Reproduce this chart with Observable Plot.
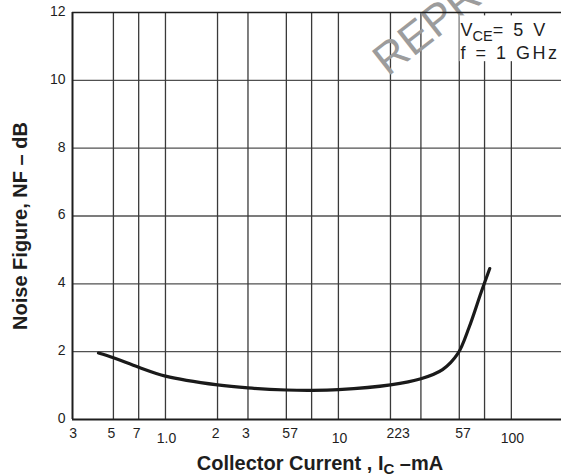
<!DOCTYPE html>
<html><head><meta charset="utf-8">
<script src="https://cdn.jsdelivr.net/npm/d3@7"></script>
<script src="https://cdn.jsdelivr.net/npm/@observablehq/plot@0.6"></script>
<style>body{margin:0;background:#fff} svg{display:block}</style>
</head><body><div id="chart"></div>
<script>
// Curve: noise figure vs collector current
const currentMA = [0.41, 0.5, 0.7, 1.0, 2.0, 3.0, 5.0, 7.0, 10, 20, 30, 40, 49, 57, 67, 75];
const noiseFigureDB = [1.96, 1.82, 1.54, 1.28, 1.02, 0.93, 0.87, 0.86, 0.88, 1.02, 1.2, 1.47, 1.94, 2.72, 3.76, 4.45];

// Axes
const xDomain = [0.29, 195];
const yDomain = [0, 12];
const yTicks = [0, 2, 4, 6, 8, 10, 12];
const xGrid = [0.5, 0.7, 1, 2, 3, 5, 7, 10, 20, 30, 50, 70, 100];
const xSingleAt = [0.3, 0.5, 0.7, 2, 3];
const xSingleText = ["3", "5", "7", "2", "3"];
const xGroupAt = [5, 20, 50];
const xGroupText = ["57", "223", "57"];
const xDecadeAt = [1, 10, 100];
const xDecadeText = ["1.0", "10", "100"];

// Texts
const xTitle = ["Collector Current , I", "C", " \u2013mA"];
const yTitle = "Noise Figure, NF \u2013 dB";
const condition1 = ["V", "CE", "= 5 V"];
const condition2 = "f = 1 GHz";
const watermark = "REPRINT";
const noteAt = {x: 50.5, y1: 10.55, y2: 11.9};
const watermarkAt = {x: 19.3, y: 10.1};

const font = "'Liberation Sans', Arial, Helvetica, sans-serif";
const ink = "#1e1e1e";

const curve = currentMA.map((c, i) => ({c, nf: noiseFigureDB[i]}));

const chart = Plot.plot({
  width: 561, height: 476,
  marginLeft: 72, marginRight: 0, marginTop: 12, marginBottom: 57,
  x: {type: "log", domain: xDomain, axis: null},
  y: {domain: yDomain, axis: null},
  style: {fontFamily: font, background: "white", color: ink},
  marks: [
    Plot.ruleY(yTicks.slice(1, -1), {y: d => d, stroke: "#505050", strokeWidth: 1.3}),
    Plot.ruleX(xGrid, {x: d => d, y1: yDomain[0], y2: yDomain[1], stroke: "#3a3a3a", strokeWidth: 1.3}),
    Plot.text([watermark], {x: watermarkAt.x, y: watermarkAt.y, text: d => d, rotate: -38, fontSize: 44, fill: "#9c9c9c", textAnchor: "start", lineAnchor: "bottom"}),
    Plot.rectY([noteAt], {x1: d => d.x, x2: xDomain[1], y1: d => d.y1, y2: d => d.y2, fill: "white"}),
    Plot.ruleY([yDomain[1]], {stroke: ink, strokeWidth: 1.6}),
    Plot.ruleY([yDomain[0]], {stroke: ink, strokeWidth: 2}),
    Plot.ruleX([xDomain[0]], {y1: yDomain[0], y2: yDomain[1], stroke: ink, strokeWidth: 2}),
    Plot.line(curve, {x: "c", y: "nf", curve: "catmull-rom", stroke: "#1a1a1a", strokeWidth: 3.2}),
    Plot.text(yTicks, {x: xDomain[0], y: d => d, text: d => String(d), textAnchor: "end", dx: -7, dy: -1, fontSize: 14, fill: ink}),
    Plot.text(xSingleAt, {x: d => d, y: yDomain[0], text: (d, i) => xSingleText[i], lineAnchor: "bottom", dy: 18, dx: -2, fontSize: 14, fill: ink}),
    Plot.text(xGroupAt, {x: d => d, y: yDomain[0], text: (d, i) => xGroupText[i], textAnchor: "start", lineAnchor: "bottom", dy: 18, dx: -4, fontSize: 14, fill: ink}),
    Plot.text(xDecadeAt, {x: d => d, y: yDomain[0], text: (d, i) => xDecadeText[i], lineAnchor: "bottom", dy: 23, dx: 1, fontSize: 14, fill: ink})
  ]
});

const svg = d3.select(chart);
const sx = chart.scale("x"), sy = chart.scale("y");

// x axis title
const xt = svg.append("text")
  .attr("x", 320).attr("y", 470)
  .attr("text-anchor", "middle")
  .attr("font-family", font).attr("font-weight", "bold").attr("font-size", 20).attr("fill", ink);
xt.append("tspan").text(xTitle[0]);
xt.append("tspan").attr("font-size", 15).attr("dy", 4).text(xTitle[1]);
xt.append("tspan").attr("dy", -4).text(xTitle[2]);

// y axis title
svg.append("text")
  .attr("transform", "translate(27,226) rotate(-90)")
  .attr("text-anchor", "middle")
  .attr("font-family", font).attr("font-weight", "bold").attr("font-size", 20).attr("fill", ink)
  .text(yTitle);

// condition note
const nx = sx.apply(noteAt.x) + 1;
const n1 = svg.append("text")
  .attr("x", nx).attr("y", sy.apply(11.3))
  .attr("text-anchor", "start")
  .attr("font-family", font).attr("font-size", 18).attr("fill", ink);
n1.append("tspan").text(condition1[0]);
n1.append("tspan").attr("font-size", 14.5).attr("dy", 5).text(condition1[1]);
n1.append("tspan").attr("dy", -5).attr("letter-spacing", 2.5).text(condition1[2]);
svg.append("text")
  .attr("x", nx).attr("y", sy.apply(10.6))
  .attr("text-anchor", "start")
  .attr("font-family", font).attr("font-size", 18).attr("letter-spacing", 2.5).attr("fill", ink)
  .text(condition2);

document.getElementById("chart").appendChild(chart);
</script>
</body></html>
